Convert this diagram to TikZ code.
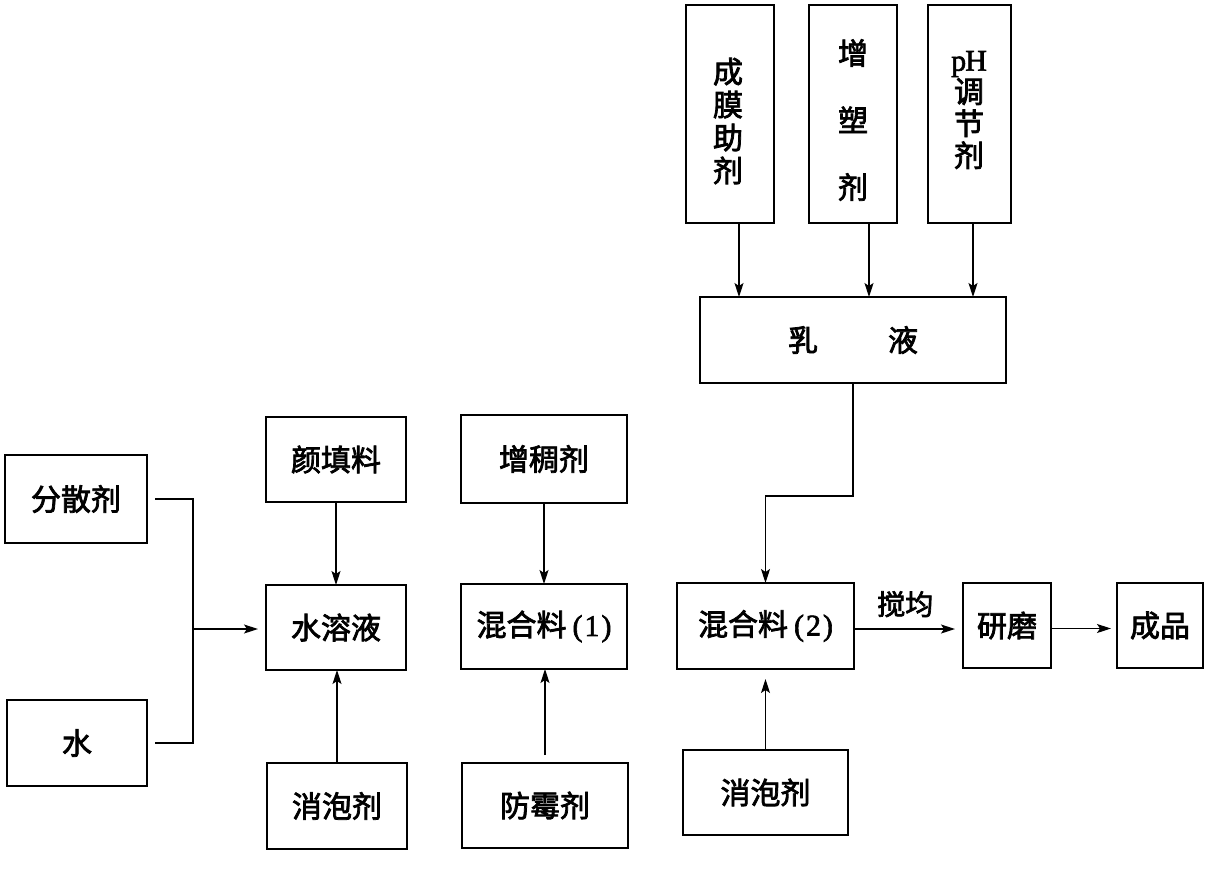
\documentclass[tikz,border=0pt]{standalone}
\usepackage{fontspec}
\newfontfamily\cjk{Noto Sans CJK SC}[FakeBold=2.5]
\newfontfamily\lat{Liberation Serif}[FakeBold=2]
\usetikzlibrary{arrows.meta}
\tikzset{
  box/.style={draw, line width=1.3pt, inner sep=0pt, outer sep=0pt, font={\cjk\fontsize{30}{33}\selectfont}, align=center},
  wire/.style={line width=1.2pt},
  arr/.style={line width=1.2pt, -{Stealth[length=14pt,width=9pt,inset=3pt]}},
}
\newcommand{\pnum}[1]{\hspace{6pt}{\lat(\hspace{2pt}#1\hspace{2pt})}}
\begin{document}
\begin{tikzpicture}[x=1pt,y=-1pt]
\useasboundingbox (0,0) rectangle (1209,868);
% left column
\node[box, minimum width=142pt, minimum height=88pt] (fsj) at (76,499) {分散剂};
\node[box, minimum width=140pt, minimum height=86pt] (shui) at (77,743) {水};
\node[box, minimum width=140pt, minimum height=85pt] (ytl) at (336,459.5) {颜填料};
\node[box, minimum width=140pt, minimum height=85pt] (srl) at (336,627.5) {水溶液};
\node[box, minimum width=140pt, minimum height=86pt] (xpja) at (337,806) {消泡剂};
\node[box, minimum width=166pt, minimum height=88pt] (zcj) at (544,459) {增稠剂};
\node[box, minimum width=166pt, minimum height=85pt] (hhla) at (544,626.5) {混合料\pnum{1}};
\node[box, minimum width=166pt, minimum height=85pt] (fmj) at (545,805.5) {防霉剂};
\node[box, minimum width=177pt, minimum height=86pt] (hhlb) at (765.5,626) {混合料\pnum{2}};
\node[box, minimum width=165pt, minimum height=85pt] (xpjb) at (765.5,792.5) {消泡剂};
% top
\node[box, minimum width=88pt, minimum height=218pt] (cmzj) at (730,114) {};
\node[font={\cjk\fontsize{30}{33}\selectfont}, align=center, inner sep=0pt] (cmzjt) at (728,121) {成\\膜\\助\\剂};
\node[box, minimum width=88pt, minimum height=218pt] (zsj) at (853,114) {};
\node[font={\cjk\fontsize{30}{67}\selectfont}, align=center, inner sep=0pt] (zsjt) at (853,120) {增\\塑\\剂};
\node[box, minimum width=83pt, minimum height=218pt] (ph) at (969.5,114) {};
\node[font={\cjk\fontsize{30}{32}\selectfont}, align=center, inner sep=0pt] (pht) at (969,110) {{\lat p\hspace{-1pt}H}\\调\\节\\剂};
\node[box, minimum width=306pt, minimum height=86pt] (ry) at (853,340) {乳\hspace{70pt}液};
% right
\node[box, minimum width=88pt, minimum height=85pt] (ym) at (1007,625.5) {研磨};
\node[box, minimum width=86pt, minimum height=85pt] (cp) at (1160,625.5) {成品};
% connectors
\coordinate (j) at (193,629);
\draw[wire] ([xshift=8pt]fsj.east) -| (j) |- ([xshift=8pt]shui.east);
\draw[arr, shorten >=8pt] (j) -- (j -| srl.west);
\draw[arr] (ytl.south) -- (srl.north);
\draw[arr] (xpja.north) -- (xpja.north |- srl.south);
\draw[arr] (zcj.south) -- (hhla.north);
\draw[arr] ([yshift=8pt]fmj.north) -- (fmj.north |- hhla.south);
\draw[arr, shorten >=10pt] (xpjb.north) -- (hhlb.south);
\draw[arr] (ry.south) -- ++(0,113) -| (hhlb.north);
\draw[arr, shorten >=8pt] ([yshift=-3pt]hhlb.east) -- ([yshift=-3pt]hhlb.east -| ym.west)
  node[pos=0.47, above=8pt, font={\cjk\fontsize{28}{30}\selectfont}] (jj) {搅均};
\draw[arr, shorten >=6pt] ([yshift=-3pt]ym.east) -- ([yshift=-3pt]ym.east -| cp.west);
\draw[arr] ([xshift=9pt]cmzj.south) -- ([xshift=9pt]cmzj.south |- ry.north);
\draw[arr] ([xshift=16pt]zsj.south) -- ([xshift=16pt]zsj.south |- ry.north);
\draw[arr] ([xshift=3.5pt]ph.south) -- ([xshift=3.5pt]ph.south |- ry.north);
\end{tikzpicture}
\end{document}
